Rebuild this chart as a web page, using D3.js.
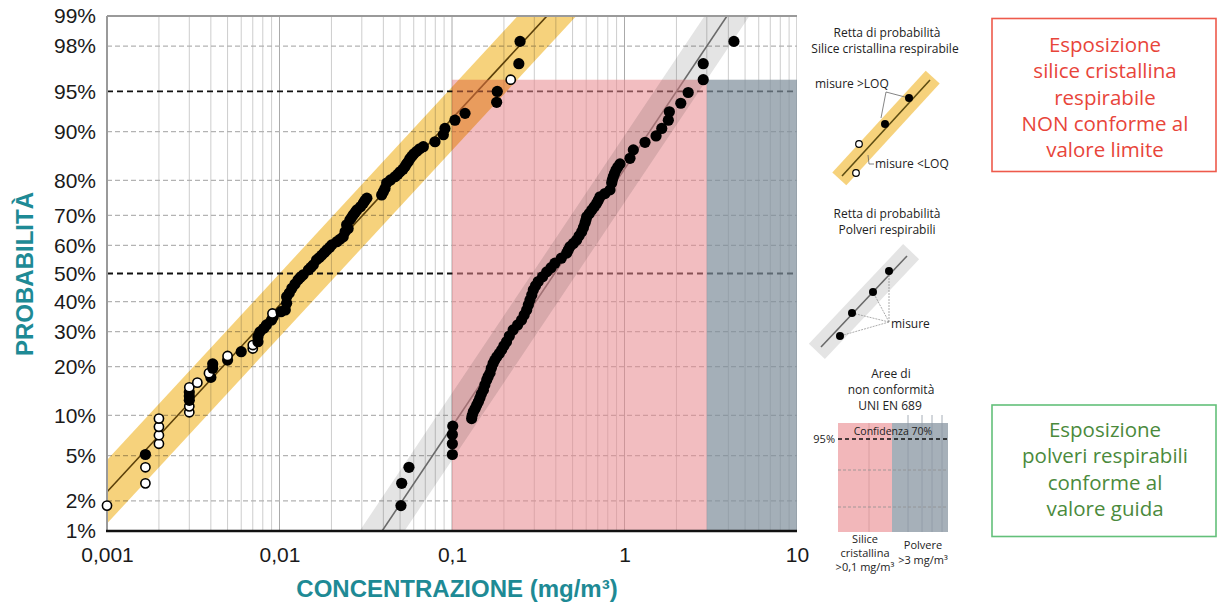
<!DOCTYPE html>
<html>
<head>
<meta charset="utf-8">
<script src="https://cdn.jsdelivr.net/npm/d3@7"></script>
<style>
  body { margin: 0; background: #fff; }
  svg { display: block; }
  .ylab text, .xlab text { font-family: "Liberation Sans", Arial, sans-serif; font-size: 21px; fill: #1a1a1a; }
  .legend text { font-family: "Open Sans", sans-serif; fill: #222; }
</style>
</head>
<body>
<svg id="chart" width="1217" height="605"></svg>
<script>
// ticks
var xTickValues = [0.001, 0.01, 0.1, 1, 10];
var probTicks = [1, 2, 5, 10, 20, 30, 40, 50, 60, 70, 80, 90, 95, 98, 99];
var refProbs = [50, 95];

// silice cristallina respirabile (mg/m3, probabilita %)
var silicaConc = [0.001, 0.00167, 0.00167, 0.00167, 0.002, 0.002, 0.002, 0.002, 0.003, 0.003,
  0.003, 0.003, 0.003, 0.003, 0.00334, 0.004, 0.0039, 0.0041, 0.0041, 0.005,
  0.005, 0.006, 0.007, 0.007, 0.0075, 0.0075, 0.0077, 0.0081, 0.0084, 0.0090,
  0.0092, 0.0091, 0.0108, 0.0110, 0.0110, 0.0118, 0.0128, 0.0137, 0.0147, 0.0157,
  0.0164, 0.0176, 0.0188, 0.0201, 0.0215, 0.0234, 0.0240, 0.0245, 0.0256, 0.0268,
  0.0281, 0.0306, 0.0321, 0.0391, 0.0409, 0.0418, 0.0467, 0.050, 0.0534, 0.0558,
  0.0584, 0.0624, 0.0682, 0.0797, 0.0891, 0.091, 0.104, 0.119, 0.1815, 0.183,
  0.219, 0.244, 0.248,
  0.0102, 0.0114, 0.0123, 0.0132, 0.0152, 0.0170, 0.0182, 0.0195, 0.0225, 0.0250,
  0.0262, 0.0275, 0.0295, 0.0313, 0.0400, 0.0440, 0.0485, 0.0520, 0.0545, 0.0570,
  0.0600, 0.0650];
var silicaProb = [1.8, 2.9, 4.0, 5.1, 6.2, 7.2, 8.3, 9.5, 10.5, 11.5,
  12.6, 13.4, 14.2, 15.2, 16.2, 17.4, 18.4, 19.6, 20.7, 21.7,
  22.8, 24.0, 24.9, 25.9, 26.9, 28.4, 29.9, 31.0, 32.1, 33.7,
  34.8, 35.9, 37.1, 39.4, 41.7, 44.7, 47.7, 49.5, 51.3, 53.1,
  54.9, 56.6, 58.4, 60.2, 61.3, 63.0, 64.7, 67.0, 68.6, 70.2,
  71.7, 73.7, 75.2, 76.1, 77.9, 79.3, 80.9, 82.1, 83.3, 84.4,
  85.5, 86.5, 87.4, 88.3, 89.5, 90.5, 91.7, 92.6, 93.9, 95.0,
  96.0, 97.1, 98.2,
  36.5, 43.0, 46.2, 48.6, 52.2, 55.7, 57.5, 59.3, 62.2, 65.8,
  69.4, 71.0, 72.7, 74.5, 77.0, 80.1, 81.5, 82.7, 83.9, 85.0,
  86.0, 87.0];
// misure <LOQ (cerchi vuoti)
var silicaOpenIdx = [0, 1, 2, 4, 5, 6, 7, 8, 9, 13, 14, 16, 20, 22, 23, 31, 70];

// polveri respirabili
var dustConc = [0.0506, 0.0511, 0.0563, 0.1005, 0.1005, 0.1005, 0.101, 0.130, 0.133, 0.139,
  0.145, 0.152, 0.159, 0.166, 0.173, 0.182, 0.194, 0.207, 0.226, 0.253,
  0.271, 0.283, 0.296, 0.316, 0.354, 0.395, 0.462, 0.483, 0.528, 0.565,
  0.590, 0.604, 0.646, 0.690, 0.721, 0.824, 0.843, 0.861, 0.893, 0.942,
  1.076, 1.125, 1.315, 1.524, 1.644, 1.795, 1.82, 2.12, 2.34, 2.86,
  2.86, 4.31,
  0.131, 0.136, 0.142, 0.148, 0.155, 0.162, 0.169, 0.177, 0.188, 0.200,
  0.215, 0.240, 0.262, 0.277, 0.290, 0.305, 0.335, 0.375, 0.430, 0.472,
  0.505, 0.545, 0.578, 0.597, 0.625, 0.668, 0.705, 0.770, 0.850, 0.875,
  0.915];
var dustProb = [1.8, 2.9, 4.0, 5.1, 6.2, 7.3, 8.4, 9.5, 10.6, 11.7,
  13.0, 14.6, 16.8, 18.4, 20.8, 22.6, 24.5, 26.9, 30.5, 33.7,
  37.1, 40.5, 44.1, 47.1, 50.6, 53.7, 57.3, 59.6, 61.9, 64.7,
  67.5, 69.6, 71.7, 73.7, 75.6, 77.5, 79.3, 80.9, 82.5, 83.9,
  85.1, 86.8, 88.2, 89.3, 90.5, 91.7, 92.8, 93.8, 94.9, 96.0,
  97.1, 98.2,
  10.0, 11.1, 12.3, 13.8, 15.7, 17.6, 19.6, 21.7, 23.5, 25.7,
  28.6, 32.1, 35.4, 38.8, 42.3, 45.6, 48.8, 52.1, 55.5, 58.4,
  60.7, 63.3, 66.1, 68.5, 70.6, 72.7, 74.6, 76.5, 80.1, 81.7,
  83.2];

// rette di probabilita (media geometrica, dev. std geometrica, semi-larghezza fascia in log10)
var fitGM = [0.0148, 0.393];
var fitGSD = [3.92, 2.69];
var fitBand = [0.17, 0.13];
var fitBandColor = ["#f6d27c", "#e4e4e4"];
var fitLineColor = ["#5e4d12", "#777777"];

// aree di non conformita
var zoneFrom = [0.1, 3];
var zoneTo = [3, 10];
var zoneTopProb = 96;
var zoneColor = ["#e8868c", "#7e8d9a"];

function probit(p) {
  var a = [-3.969683028665376e+01, 2.209460984245205e+02, -2.759285104469687e+02, 1.383577518672690e+02, -3.066479806614716e+01, 2.506628277459239e+00];
  var b = [-5.447609879822406e+01, 1.615858368580409e+02, -1.556989798598866e+02, 6.680131188771972e+01, -1.328068155288572e+01];
  var c = [-7.784894002430293e-03, -3.223964580411365e-01, -2.400758277161838e+00, -2.549732539343734e+00, 4.374664141464968e+00, 2.938163982698783e+00];
  var d = [7.784695709041462e-03, 3.224671290700398e-01, 2.445134137142996e+00, 3.754408661907416e+00];
  var pl = 0.02425, q, r;
  if (p < pl) {
    q = Math.sqrt(-2 * Math.log(p));
    return (((((c[0]*q+c[1])*q+c[2])*q+c[3])*q+c[4])*q+c[5]) / ((((d[0]*q+d[1])*q+d[2])*q+d[3])*q+1);
  }
  if (p > 1 - pl) {
    q = Math.sqrt(-2 * Math.log(1 - p));
    return -(((((c[0]*q+c[1])*q+c[2])*q+c[3])*q+c[4])*q+c[5]) / ((((d[0]*q+d[1])*q+d[2])*q+d[3])*q+1);
  }
  q = p - 0.5; r = q * q;
  return (((((a[0]*r+a[1])*r+a[2])*r+a[3])*r+a[4])*r+a[5])*q / (((((b[0]*r+b[1])*r+b[2])*r+b[3])*r+b[4])*r+1);
}

var pLeft = 107, pRight = 797, pTop = 16, pBottom = 531;
var svg = d3.select("#chart");
svg.append("rect").attr("width", 1217).attr("height", 605).attr("fill", "#fff");

var x = d3.scaleLog().domain([0.001, 10]).range([pLeft, pRight]);
var yz = d3.scaleLinear().domain([probit(0.01), probit(0.99)]).range([pBottom, pTop]);
function yp(p) { return yz(probit(p / 100)); }

svg.append("clipPath").attr("id", "plotclip")
  .append("rect").attr("x", pLeft).attr("y", pTop).attr("width", pRight - pLeft).attr("height", pBottom - pTop);

var plot = svg.append("g").attr("clip-path", "url(#plotclip)");

// griglia verticale
var gridX = [];
[0.001, 0.01, 0.1, 1].forEach(function (dec) {
  for (var k = 1; k <= 9; k++) gridX.push(dec * k);
});
gridX.push(10);
plot.selectAll(".vg").data(gridX).enter().append("line")
  .attr("x1", function (d) { return x(d); }).attr("x2", function (d) { return x(d); })
  .attr("y1", pTop).attr("y2", pBottom)
  .attr("stroke", function (d) { return Math.abs(Math.log10(d) - Math.round(Math.log10(d))) < 1e-6 ? "#aaaaaa" : "#cdcdcd"; })
  .attr("stroke-width", 1);

// griglia orizzontale tratteggiata
plot.selectAll(".hg").data(probTicks.filter(function (p) { return refProbs.indexOf(p) < 0 && p > 1 && p < 99; }))
  .enter().append("line")
  .attr("x1", pLeft).attr("x2", pRight)
  .attr("y1", function (d) { return yp(d); }).attr("y2", function (d) { return yp(d); })
  .attr("stroke", "#b3b3b3").attr("stroke-width", 1.2).attr("stroke-dasharray", "5,3");

plot.selectAll(".rl").data(refProbs).enter().append("line")
  .attr("x1", pLeft).attr("x2", pRight)
  .attr("y1", function (d) { return yp(d); }).attr("y2", function (d) { return yp(d); })
  .attr("stroke", "#111").attr("stroke-width", 1.8).attr("stroke-dasharray", "6,4");

// rette
var zExt = [-3.5, 3.5];
fitGM.forEach(function (gm, i) {
  plot.append("line")
    .attr("x1", x(gm * Math.pow(fitGSD[i], zExt[0]))).attr("y1", yz(zExt[0]))
    .attr("x2", x(gm * Math.pow(fitGSD[i], zExt[1]))).attr("y2", yz(zExt[1]))
    .attr("stroke", fitLineColor[i]).attr("stroke-width", 1.6);
});

// aree di non conformita
plot.selectAll(".zone").data(zoneFrom).enter().append("rect")
  .attr("x", function (d) { return x(d); })
  .attr("width", function (d, i) { return x(zoneTo[i]) - x(d); })
  .attr("y", yp(zoneTopProb))
  .attr("height", pBottom - yp(zoneTopProb))
  .attr("fill", function (d, i) { return zoneColor[i]; })
  .attr("fill-opacity", function (d, i) { return i === 0 ? 0.55 : 0.7; });

// fasce
fitGM.forEach(function (gm, i) {
  var h = Math.pow(10, fitBand[i]);
  var c0 = gm * Math.pow(fitGSD[i], zExt[0]), c1 = gm * Math.pow(fitGSD[i], zExt[1]);
  var pts = [[x(c0 / h), yz(zExt[0])], [x(c1 / h), yz(zExt[1])], [x(c1 * h), yz(zExt[1])], [x(c0 * h), yz(zExt[0])]];
  plot.append("path").attr("d", d3.line()(pts) + "Z")
    .attr("fill", fitBandColor[i]).style("mix-blend-mode", "multiply");
});

// cornice
svg.append("line").attr("x1", pLeft).attr("x2", pRight).attr("y1", pTop).attr("y2", pTop).attr("stroke", "#9a9a9a").attr("stroke-width", 2);
svg.append("line").attr("x1", pLeft).attr("x2", pLeft).attr("y1", pTop).attr("y2", pBottom).attr("stroke", "#9a9a9a").attr("stroke-width", 2);
svg.append("line").attr("x1", pLeft - 1).attr("x2", pRight).attr("y1", pBottom).attr("y2", pBottom).attr("stroke", "#111").attr("stroke-width", 2.5);

// punti
var dust = dustConc.map(function (c, i) { return { c: c, p: dustProb[i] }; });
var silica = silicaConc.map(function (c, i) { return { c: c, p: silicaProb[i], open: silicaOpenIdx.indexOf(i) >= 0 }; });
svg.append("g").selectAll("circle").data(dust).enter().append("circle")
  .attr("cx", function (d) { return x(d.c); }).attr("cy", function (d) { return yp(d.p); })
  .attr("r", 5.6).attr("fill", "#000");
svg.append("g").selectAll("circle").data(silica).enter().append("circle")
  .attr("cx", function (d) { return x(d.c); }).attr("cy", function (d) { return yp(d.p); })
  .attr("r", function (d) { return d.open ? 4.6 : 5.6; })
  .attr("fill", function (d) { return d.open ? "#fff" : "#000"; })
  .attr("stroke", "#000").attr("stroke-width", function (d) { return d.open ? 1.6 : 0; });

// assi
var yAxis = d3.axisLeft(yz).tickValues(probTicks.map(function (p) { return probit(p / 100); }))
  .tickFormat(function (d, i) { return probTicks[i] + "%"; }).tickSize(0).tickPadding(11);
var gy = svg.append("g").attr("class", "ylab").attr("transform", "translate(" + pLeft + ",0)").call(yAxis);
gy.select(".domain").remove();
gy.selectAll("text").attr("font-family", null).attr("font-size", null).attr("fill", null);

var xAxis = d3.axisBottom(x).tickValues(xTickValues)
  .tickFormat(function (d) { return String(d).replace(".", ","); }).tickSize(0).tickPadding(16);
var gx = svg.append("g").attr("class", "xlab").attr("transform", "translate(0," + pBottom + ")").call(xAxis);
gx.select(".domain").remove();
gx.selectAll("text").attr("font-family", null).attr("font-size", null).attr("fill", null);

svg.append("text").attr("transform", "translate(33,274) rotate(-90)")
  .attr("text-anchor", "middle").attr("font-family", "Liberation Sans, Arial, sans-serif")
  .attr("font-weight", "bold").attr("font-size", 24).attr("fill", "#1e8a95").text("PROBABILITÀ");
svg.append("text").attr("x", 457).attr("y", 597)
  .attr("text-anchor", "middle").attr("font-family", "Liberation Sans, Arial, sans-serif")
  .attr("font-weight", "bold").attr("font-size", 24).attr("fill", "#1e8a95").text("CONCENTRAZIONE (mg/m³)");

// legenda a destra
var lg = svg.append("g").attr("class", "legend");
function ltext(tx, ty, s, size, anchor) {
  return lg.append("text").attr("x", tx).attr("y", ty).attr("font-size", size || 12)
    .attr("text-anchor", anchor || "middle").text(s);
}
function bandPoly(x1, y1, x2, y2, hw, ext) {
  var dx = x2 - x1, dy = y2 - y1, L = Math.sqrt(dx * dx + dy * dy);
  var ux = dx / L, uy = dy / L, nx = -uy * hw, ny = ux * hw;
  var ax = x1 - ux * ext, ay = y1 - uy * ext, bx = x2 + ux * ext, by = y2 + uy * ext;
  return [[ax + nx, ay + ny], [bx + nx, by + ny], [bx - nx, by - ny], [ax - nx, ay - ny]];
}

ltext(887, 37, "Retta di probabilità");
ltext(885, 53, "Silice cristallina respirabile");
lg.append("path").attr("d", d3.line()(bandPoly(842, 176, 930, 80, 9.5, 4)) + "Z").attr("fill", fitBandColor[0]);
lg.append("line").attr("x1", 842).attr("y1", 176).attr("x2", 930).attr("y2", 80).attr("stroke", fitLineColor[0]).attr("stroke-width", 1.6);
lg.append("polyline").attr("points", "905,97 886,92 881,118").attr("fill", "none").attr("stroke", "#666").attr("stroke-width", 0.8);
lg.append("polyline").attr("points", "868,155 869,164 874,164").attr("fill", "none").attr("stroke", "#666").attr("stroke-width", 0.8);
[[909, 98], [885, 124]].forEach(function (p) { lg.append("circle").attr("cx", p[0]).attr("cy", p[1]).attr("r", 4).attr("fill", "#000"); });
[[859, 144], [856, 173]].forEach(function (p) { lg.append("circle").attr("cx", p[0]).attr("cy", p[1]).attr("r", 3.3).attr("fill", "#fff").attr("stroke", "#000").attr("stroke-width", 1.2); });
ltext(815, 88, "misure >LOQ", 12, "start");
ltext(875, 168, "misure <LOQ", 12, "start");

ltext(887, 218, "Retta di probabilità");
ltext(887, 234, "Polveri respirabili");
lg.append("path").attr("d", d3.line()(bandPoly(821, 347, 907, 256, 11, 6)) + "Z").attr("fill", fitBandColor[1]);
lg.append("line").attr("x1", 821).attr("y1", 347).attr("x2", 907).attr("y2", 256).attr("stroke", "#6a6a6a").attr("stroke-width", 1.6);
[[840, 336], [852, 313], [873, 292], [889, 271]].forEach(function (p) {
  lg.append("line").attr("x1", 889).attr("y1", 322).attr("x2", p[0]).attr("y2", p[1]).attr("stroke", "#888").attr("stroke-width", 0.7).attr("stroke-dasharray", "2,1");
  lg.append("circle").attr("cx", p[0]).attr("cy", p[1]).attr("r", 4).attr("fill", "#000");
});
ltext(891, 328, "misure", 12, "start");

ltext(891, 378, "Aree di");
ltext(891, 394, "non conformità");
ltext(890, 410, "UNI EN 689");
lg.append("rect").attr("x", 838).attr("y", 423).attr("width", 54).attr("height", 109).attr("fill", "#f2b7ba");
lg.append("rect").attr("x", 892).attr("y", 423).attr("width", 56).attr("height", 109).attr("fill", "#a6b0b9");
[869, 908, 922, 932, 942].forEach(function (vx, i) {
  lg.append("line").attr("x1", vx).attr("x2", vx).attr("y1", i === 0 ? 423 : 415).attr("y2", 532)
    .attr("stroke", i === 0 ? "#d49a9c" : "#8f9aa4").attr("stroke-width", 0.8);
});
[470, 507].forEach(function (hy) {
  lg.append("line").attr("x1", 838).attr("x2", 948).attr("y1", hy).attr("y2", hy)
    .attr("stroke", "#8f8f8f").attr("stroke-width", 0.8).attr("stroke-dasharray", "3,2");
});
lg.append("line").attr("x1", 838).attr("x2", 948).attr("y1", 439).attr("y2", 439)
  .attr("stroke", "#111").attr("stroke-width", 1.3).attr("stroke-dasharray", "4,3");
ltext(893, 435, "Confidenza 70%", 10.5);
ltext(835, 443, "95%", 11, "end");
ltext(865, 543, "Silice", 11);
ltext(865, 557, "cristallina", 11);
ltext(865, 571, ">0,1 mg/m³", 11);
ltext(923, 549, "Polvere", 11);
ltext(923, 564, ">3 mg/m³", 11);

// riquadri
var boxes = [
  { y: 18.5, h: 153, stroke: "#ee5a4c", fill: "#e8453a", y0: 52, lines: ["Esposizione", "silice cristallina", "respirabile", "NON conforme al", "valore limite"] },
  { y: 405, h: 131.5, stroke: "#63c07a", fill: "#4b8a3c", y0: 437, lines: ["Esposizione", "polveri respirabili", "conforme al", "valore guida"] }
];
boxes.forEach(function (b) {
  svg.append("rect").attr("x", 992).attr("y", b.y).attr("width", 224).attr("height", b.h)
    .attr("fill", "none").attr("stroke", b.stroke).attr("stroke-width", 1.6);
  b.lines.forEach(function (s, i) {
    svg.append("text").attr("x", 1105).attr("y", b.y0 + i * 26.3).attr("text-anchor", "middle")
      .attr("font-family", "Open Sans, sans-serif").attr("font-size", 20.5).attr("fill", b.fill).text(s);
  });
});
</script>
</body>
</html>
